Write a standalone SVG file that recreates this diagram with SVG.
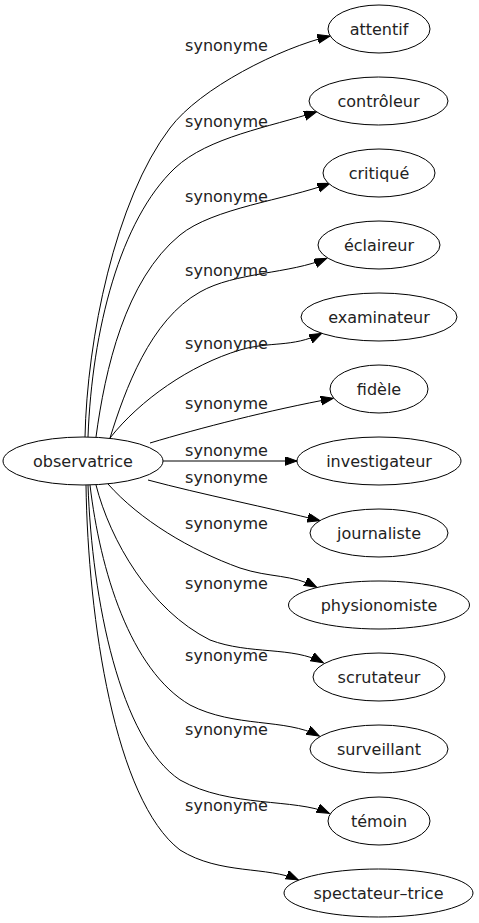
<svg xmlns="http://www.w3.org/2000/svg" width="479" height="923" viewBox="0 0 479 923">
<defs>
<style>
.n ellipse{fill:#fff;stroke:#000;stroke-width:1}
.n text{font-family:"DejaVu Sans",sans-serif;font-size:16px;fill:#222;text-anchor:middle}
.e path{fill:none;stroke:#000;stroke-width:1;marker-end:url(#ah)}
.e text{font-family:"DejaVu Sans",sans-serif;font-size:16px;fill:#222;text-anchor:middle}
</style>
<marker id="ah" markerUnits="userSpaceOnUse" markerWidth="14" markerHeight="10" refX="12.5" refY="4.5" orient="auto" viewBox="0 0 14 10">
<path d="M0,0 L12.5,4.5 L0,9 Z" fill="#000" stroke="#000" stroke-width="1"/>
</marker>
</defs>
<rect width="479" height="923" fill="#fff"/>
<g id="edges" class="e">
<path d="M85,437 C87,340 115,200 170,128 C200,88 280,48 330,36"/>
<path d="M88,437 C92,330 120,220 175,168 C208,137 270,127 316.7,111.7"/>
<path d="M96,437 C105,370 125,280 180,235 C213,208 285,200 330,183.3"/>
<path d="M110,438 C125,390 150,320 200,292 C235,272 290,274 326.7,258.3"/>
<path d="M110,438 C140,400 190,365 240,350 C270,341 292,348 321.7,333.3"/>
<path d="M150,443 C200,428 270,410 333.3,398.3"/>
<path d="M163,461 L297,461"/>
<path d="M148,480 C200,494 270,508 320,520.7"/>
<path d="M108,484 C140,520 190,550 240,568 C270,578 292,574 316.7,587.3"/>
<path d="M96,485 C110,540 150,610 210,640 C250,655 292,646 323.3,662.7"/>
<path d="M90,485 C100,570 130,670 190,705 C235,728 285,718 319.3,736"/>
<path d="M88,485 C92,600 120,740 180,780 C230,808 295,798 329.3,813.3"/>
<path d="M86,485 C88,620 115,800 180,850 C220,875 268,866 298.3,880"/>
<text x="226.5" y="51">synonyme</text>
<text x="226.5" y="127">synonyme</text>
<text x="226.5" y="202">synonyme</text>
<text x="226.5" y="276">synonyme</text>
<text x="226.5" y="349">synonyme</text>
<text x="226.5" y="409">synonyme</text>
<text x="226.5" y="456">synonyme</text>
<text x="226.5" y="483">synonyme</text>
<text x="226.5" y="529">synonyme</text>
<text x="226.5" y="589">synonyme</text>
<text x="226.5" y="661">synonyme</text>
<text x="226.5" y="735">synonyme</text>
<text x="226.5" y="811">synonyme</text>
</g>
<g id="observatrice" class="n"><ellipse cx="83" cy="461" rx="80" ry="24"/><text x="83" y="466.5">observatrice</text></g>
<g id="attentif" class="n"><ellipse cx="379" cy="29" rx="51" ry="24"/><text x="379" y="34.5">attentif</text></g>
<g id="controleur" class="n"><ellipse cx="378.5" cy="101" rx="69.5" ry="24"/><text x="378.5" y="106.5">contrôleur</text></g>
<g id="critique" class="n"><ellipse cx="379" cy="173" rx="56" ry="24"/><text x="379" y="178.5">critiqué</text></g>
<g id="eclaireur" class="n"><ellipse cx="379" cy="245" rx="61" ry="24"/><text x="379" y="250.5">éclaireur</text></g>
<g id="examinateur" class="n"><ellipse cx="379" cy="317" rx="78" ry="24"/><text x="379" y="322.5">examinateur</text></g>
<g id="fidele" class="n"><ellipse cx="379" cy="389" rx="49" ry="24"/><text x="379" y="394.5">fidèle</text></g>
<g id="investigateur" class="n"><ellipse cx="379" cy="461" rx="82" ry="24"/><text x="379" y="466.5">investigateur</text></g>
<g id="journaliste" class="n"><ellipse cx="379" cy="533" rx="69" ry="24"/><text x="379" y="538.5">journaliste</text></g>
<g id="physionomiste" class="n"><ellipse cx="379" cy="605" rx="90.5" ry="24"/><text x="379" y="610.5">physionomiste</text></g>
<g id="scrutateur" class="n"><ellipse cx="379" cy="677" rx="66" ry="24"/><text x="379" y="682.5">scrutateur</text></g>
<g id="surveillant" class="n"><ellipse cx="379" cy="749" rx="69" ry="24"/><text x="379" y="754.5">surveillant</text></g>
<g id="temoin" class="n"><ellipse cx="379" cy="821" rx="51" ry="24"/><text x="379" y="826.5">témoin</text></g>
<g id="spectateur-trice" class="n"><ellipse cx="378.5" cy="893" rx="94.5" ry="24"/><text x="378.5" y="898.5">spectateur–trice</text></g>
</svg>
